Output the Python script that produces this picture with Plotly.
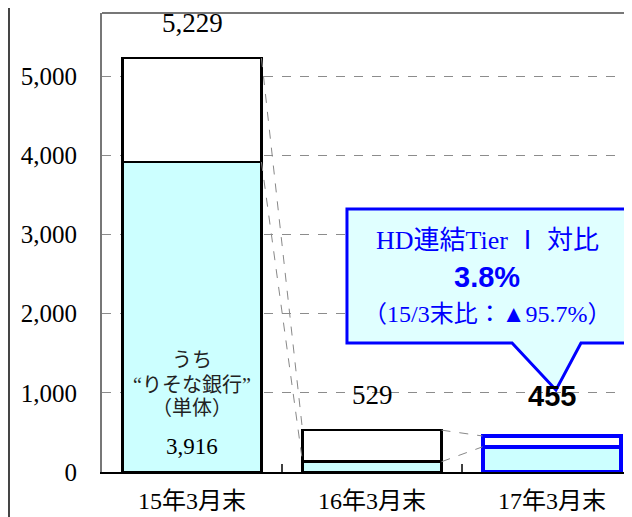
import plotly.graph_objects as go

categories = ["15年3月末", "16年3月末", "17年3月末"]
totals = [5229, 529, 455]
subs = [3916, 130, 318]
total_labels = ["5,229", "529", "455"]
sub_label = "3,916"
y_ticks = [0, 1000, 2000, 3000, 4000, 5000]
y_ticktext = ["0", "1,000", "2,000", "3,000", "4,000", "5,000"]

SERIF = "Liberation Serif, Noto Sans CJK JP, serif"
SANS = "Liberation Sans, Arial, sans-serif"
BLUE = "#0000FF"
CYAN = "#CCFFFF"

xs = list(range(len(categories)))
rest = [t - s for t, s in zip(totals, subs)]
W = 0.772
line_colors = ["black", "black", BLUE]
line_widths = [2.5, 2.5, 4]

fig = go.Figure()
fig.add_trace(go.Bar(x=xs, y=subs, width=W, marker=dict(color=CYAN, line=dict(color=line_colors, width=line_widths)),
                     hoverinfo="skip", showlegend=False))
fig.add_trace(go.Bar(x=xs, y=rest, width=W, marker=dict(color="white", line=dict(color=line_colors, width=line_widths)),
                     hoverinfo="skip", showlegend=False))

# connector lines
for i in range(len(xs) - 1):
    for series in (totals, subs):
        fig.add_trace(go.Scatter(x=[xs[i] + W / 2, xs[i + 1] - W / 2], y=[series[i], series[i + 1]],
                                 mode="lines", line=dict(color="#888888", width=1, dash="dash"),
                                 hoverinfo="skip", showlegend=False))

# page body has an 8px margin, so the figure is shrunk by 8px to fit the 632x517 window
fig.update_layout(
    barmode="stack",
    width=624, height=509,
    margin=dict(l=94, r=0, t=5, b=45),
    paper_bgcolor="white", plot_bgcolor="white",
    xaxis=dict(range=[-0.5, 2.4444], tickvals=xs, ticktext=categories, showgrid=False, automargin=False,
               showline=True, linecolor="black", linewidth=2, ticks="", zeroline=False,
               tickfont=dict(family=SERIF, size=24, color="black"), ticklabelstandoff=6),
    yaxis=dict(range=[0, 5800], tickvals=y_ticks, ticktext=y_ticktext, showgrid=True, automargin=False,
               gridcolor="#8c8c8c", griddash="dash", gridwidth=1, zeroline=False,
               showline=True, linecolor="#777777", linewidth=2, ticks="",
               tickfont=dict(family=SERIF, size=25, color="black"), ticklabelstandoff=18),
)

shapes = []
# top border of plot area
shapes.append(dict(type="line", xref="paper", yref="paper", x0=0, x1=1, y0=1, y1=1,
                   line=dict(color="#777777", width=2)))
# left frame line
shapes.append(dict(type="line", xref="paper", yref="paper", x0=-0.1755, x1=-0.1755, y0=-0.12, y1=1.05,
                   line=dict(color="#444444", width=2)))
# category divider ticks
for b in (0.5, 1.5):
    shapes.append(dict(type="line", xref="x", yref="y", x0=b, x1=b, y0=0, y1=100,
                       line=dict(color="black", width=1.5)))
# callout
shapes.append(dict(type="path", xref="x", yref="y",
                   path="M 0.861,3324 L 2.422,3324 L 2.422,1630 L 2.161,1630 L 2.022,1036 L 1.778,1630 L 0.861,1630 Z",
                   fillcolor="#E0FFFF", line=dict(color=BLUE, width=3), layer="above"))
fig.update_layout(shapes=shapes)

ann = []
ann.append(dict(x=0, y=5673, text=total_labels[0], showarrow=False, font=dict(family=SERIF, size=27, color="black")))
ann.append(dict(x=1, y=973, text=total_labels[1], showarrow=False, font=dict(family=SERIF, size=27, color="black")))
ann.append(dict(x=2, y=960, text="<b>" + total_labels[2] + "</b>", showarrow=False, font=dict(family=SANS, size=29, color="black")))
ann.append(dict(x=0, y=316, text=sub_label, showarrow=False, font=dict(family=SERIF, size=23, color="black")))
ann.append(dict(x=0, y=1415, text="うち", showarrow=False, font=dict(family=SERIF, size=20, color="#222222")))
ann.append(dict(x=0, y=1099, text="“りそな銀行”", showarrow=False, font=dict(family=SERIF, size=20, color="#222222")))
ann.append(dict(x=0, y=809, text="（単体）", showarrow=False, font=dict(family=SERIF, size=20, color="#222222")))
cx = (0.861 + 2.422) / 2
ann.append(dict(x=cx, y=2931, text="HD連結Tier Ⅰ 対比", showarrow=False, font=dict(family=SERIF, size=26, color=BLUE)))
ann.append(dict(x=cx, y=2464, text="<b>3.8%</b>", showarrow=False, font=dict(family=SANS, size=29, color=BLUE)))
ann.append(dict(x=cx, y=1996, text="（15/3末比：▲95.7%）", showarrow=False, font=dict(family=SERIF, size=24, color=BLUE)))
fig.update_layout(annotations=ann)

fig.write_html("out.html")
